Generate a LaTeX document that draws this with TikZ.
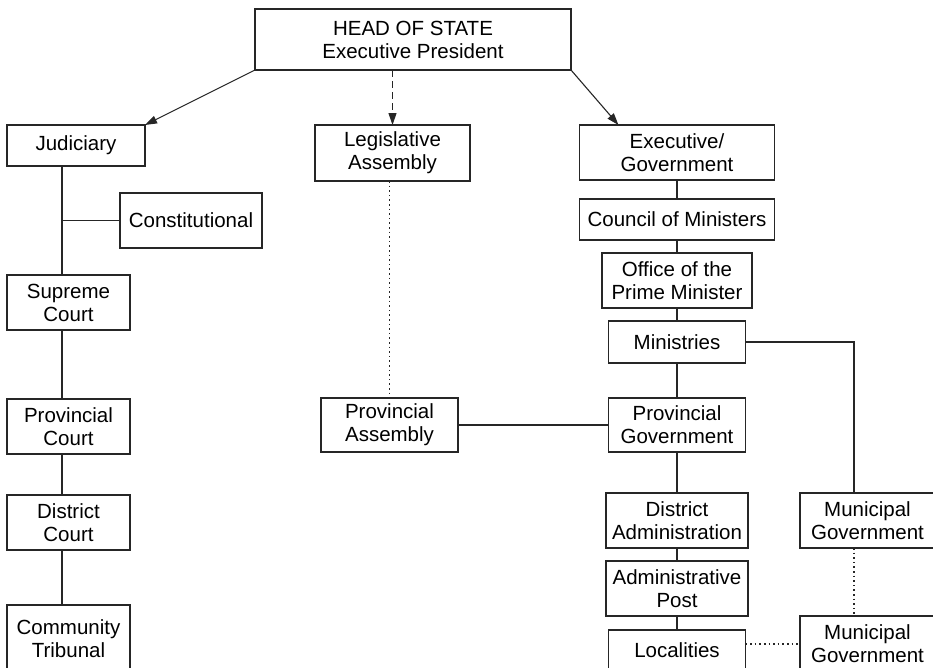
\documentclass[tikz,border=0pt]{standalone}
\usepackage{fontspec}
\setmainfont{Liberation Sans}
\usetikzlibrary{arrows.meta, positioning, calc}
\tikzset{
        box/.style={rectangle, draw=black!85, line width=1.1pt, align=center, inner sep=0pt, outer sep=0pt, minimum height=55pt, font=\fontsize{20.5}{23}\selectfont},
        boxlow/.style={box, minimum height=41pt},
        link/.style={draw=black!85, line width=1.1pt},
        arrow/.style={link, -{Triangle[length=12pt, width=8pt]}},
        dashedarrow/.style={arrow, dash pattern=on 7pt off 4pt},
        dottedlink/.style={link, dash pattern=on 1.6pt off 3pt},
    }
\begin{document}
\begin{tikzpicture}[x=1pt, y=-1pt]
        \useasboundingbox (0,0) rectangle (933,667);
        \clip (0,0) rectangle (933,667);

        % Head of state
        \node[box, minimum width=316pt, minimum height=61pt] (head) at (413,39.5) {HEAD OF STATE\\Executive President};

        % Judiciary column
        \node[boxlow, minimum width=138pt] (jud) at (76,145.5) {Judiciary};
        \node[box, minimum width=142pt, below right=27pt and 113pt of jud.south west] (con) {Constitutional};
        \node[box, minimum width=123pt, below right=109pt and 0pt of jud.south west] (sup) {Supreme\\Court};
        \node[box, minimum width=123pt, below=69pt of sup] (pcourt) {Provincial\\Court};
        \node[box, minimum width=123pt, below=41pt of pcourt] (dcourt) {District\\Court};
        \node[box, minimum width=123pt, minimum height=67pt, below=55pt of dcourt] (ctrib) {Community\\Tribunal};
        \coordinate (jtrunk) at (62,0);

        % Legislative column
        \node[box, minimum width=155pt, minimum height=56pt] (leg) at (392.5,153) {Legislative\\Assembly};
        \node[box, minimum width=137pt, minimum height=54pt, below right=217pt and 6pt of leg.south west] (pass) {Provincial\\Assembly};

        % Executive column
        \node[box, minimum width=195pt] (exe) at (677,152.5) {Executive/\\Government};
        \node[boxlow, minimum width=195pt, below=19pt of exe] (com) {Council of Ministers};
        \node[box, minimum width=150pt, below=13pt of com] (opm) {Office of the\\Prime Minister};
        \node[boxlow, minimum width=137pt, minimum height=42pt, below=13pt of opm] (min) {Ministries};
        \node[box, minimum width=137pt, minimum height=54pt, below=35pt of min] (pgov) {Provincial\\Government};
        \node[box, minimum width=142pt, below=41pt of pgov] (dadm) {District\\Administration};
        \node[box, minimum width=142pt, below=13pt of dadm] (apost) {Administrative\\Post};
        \node[boxlow, minimum width=137pt, minimum height=40pt, below=14pt of apost] (loc) {Localities};
        \node[box, minimum width=135pt, right=52pt of dadm] (mun) {Municipal\\Government};
        \node[box, minimum width=135pt, minimum height=56pt, below=68pt of mun] (munlow) {Municipal\\Government};
        \coordinate (mtrunk) at (854,0);

        % Arrows from the head of state
        \draw[arrow] (head.south west) -- (jud.north east);
        \draw[dashedarrow] (head.south -| leg.north) -- (leg.north);
        \draw[arrow] (head.south east) -- ($(exe.north west)!0.2!(exe.north east)$);

        % Judiciary links
        \draw[link] (jud.south -| jtrunk) -- (sup.north -| jtrunk);
        \draw[link] (con.west -| jtrunk) -- (con.west);
        \draw[link] (sup.south -| jtrunk) -- (pcourt.north -| jtrunk);
        \draw[link] (pcourt.south -| jtrunk) -- (dcourt.north -| jtrunk);
        \draw[link] (dcourt.south -| jtrunk) -- (ctrib.north -| jtrunk);

        % Legislative links
        \draw[dottedlink] (leg.south -| pass.north) -- (pass.north);
        \draw[link] (pass) -- (pgov);

        % Executive links
        \draw[link] (exe) -- (com);
        \draw[link] (com) -- (opm);
        \draw[link] (opm) -- (min);
        \draw[link] (min) -- (pgov);
        \draw[link] (pgov) -- (dadm);
        \draw[link] (dadm) -- (apost);
        \draw[link] (apost) -- (loc);
        \draw[link] (min.east) -| (mun.north -| mtrunk);
        \draw[dottedlink] (mun.south -| mtrunk) -- (munlow.north -| mtrunk);
        \draw[dottedlink] (munlow.west -| loc.east) -- (munlow.west);
    \end{tikzpicture}
\end{document}
